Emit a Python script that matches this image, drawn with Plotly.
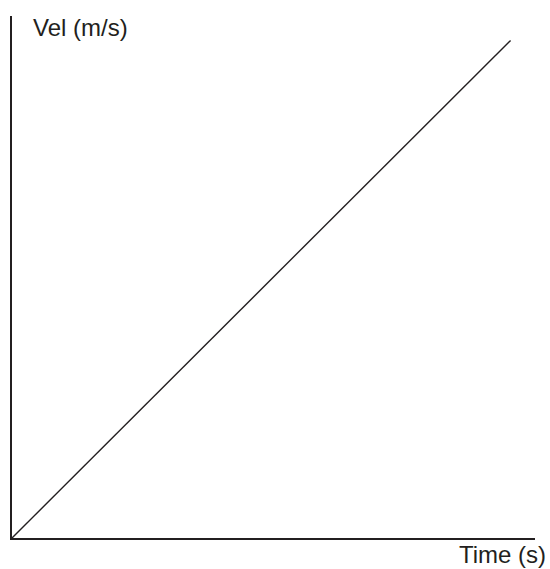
import plotly.graph_objects as go

# Velocity grows linearly with time
time_s = [0, 10]
velocity_ms = [0, 10]
x_label = "Time (s)"
y_label = "Vel (m/s)"

ink = "#231f20"

fig = go.Figure(
    go.Scatter(
        x=time_s,
        y=velocity_ms,
        mode="lines",
        line=dict(color=ink, width=1.4),
        hoverinfo="skip",
    )
)

axis_common = dict(
    showline=True,
    linecolor=ink,
    linewidth=1.5,
    showgrid=False,
    zeroline=False,
    showticklabels=False,
    ticks="",
    range=[0, 10.49],
    fixedrange=True,
)

fig.update_layout(
    width=550,
    height=569,
    margin=dict(l=12, r=15, t=16, b=31),
    paper_bgcolor="white",
    plot_bgcolor="white",
    showlegend=False,
    xaxis=axis_common,
    yaxis=axis_common,
    font=dict(family="Liberation Sans, Arial, sans-serif", size=24, color=ink),
    annotations=[
        dict(
            text=y_label,
            xref="paper", yref="paper",
            x=0.036, y=0.978,
            xanchor="left", yanchor="middle",
            showarrow=False,
        ),
        dict(
            text=x_label,
            xref="paper", yref="paper",
            x=1.024, y=-0.0325,
            xanchor="right", yanchor="middle",
            showarrow=False,
        ),
    ],
)

fig.write_html("out.html")
